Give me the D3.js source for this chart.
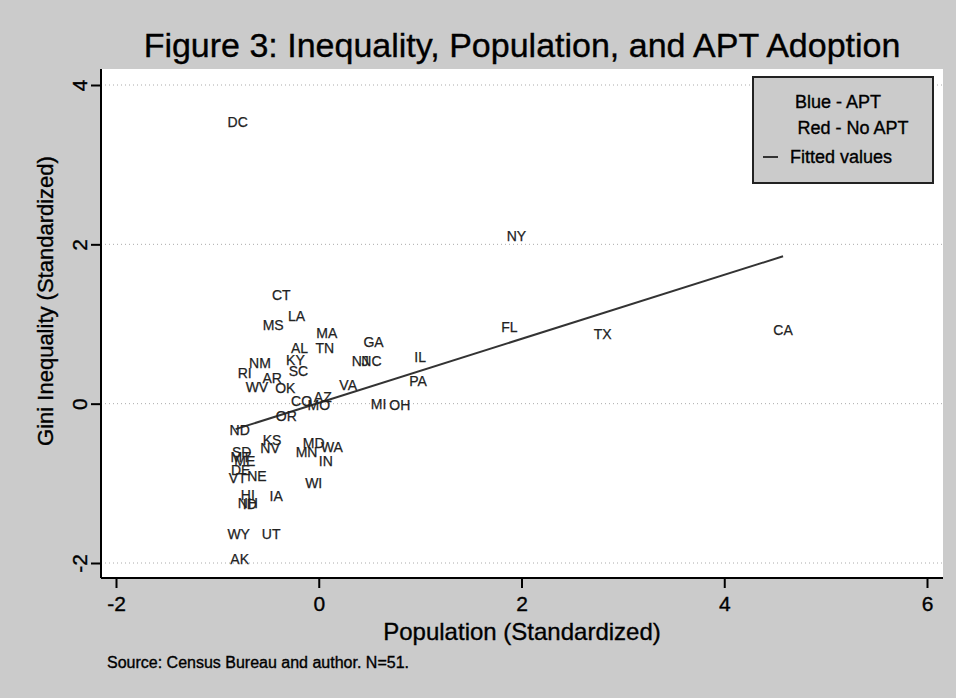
<!DOCTYPE html>
<html><head><meta charset="utf-8">
<script src="https://cdn.jsdelivr.net/npm/d3@7"></script>
<style>
html,body{margin:0;padding:0;background:#cbcbcb;}
svg{display:block;font-family:"Liberation Sans",Arial,sans-serif;}
svg text{stroke:currentColor;stroke-width:0.35px;}
</style></head>
<body>
<svg id="chart" width="956" height="698"></svg>
<script>
const states = ["DC","NY","FL","TX","CA","CT","LA","MS","MA","AL","TN","GA","NJ","NC","IL","NM","KY","SC","RI","AR","WV","OK","VA","PA","AZ","CO","MO","MI","OH","OR","ND","KS","NV","MD","WA","MN","IN","SD","MT","ME","DE","VT","NE","HI","NH","ID","IA","WI","WY","UT","AK"];
const population = [-0.80,1.95,1.88,2.80,4.58,-0.37,-0.22,-0.45,0.08,-0.19,0.06,0.54,0.41,0.52,1.00,-0.58,-0.23,-0.20,-0.73,-0.46,-0.61,-0.33,0.29,0.98,0.04,-0.17,0.00,0.59,0.80,-0.32,-0.78,-0.46,-0.48,-0.05,0.13,-0.12,0.07,-0.76,-0.77,-0.73,-0.77,-0.80,-0.61,-0.70,-0.70,-0.68,-0.42,-0.05,-0.79,-0.47,-0.78];
const gini = [3.54,2.10,0.96,0.87,0.92,1.37,1.10,0.99,0.89,0.70,0.70,0.78,0.53,0.53,0.59,0.51,0.55,0.41,0.39,0.32,0.21,0.20,0.24,0.28,0.09,0.04,-0.01,0.00,-0.01,-0.16,-0.33,-0.45,-0.56,-0.49,-0.54,-0.61,-0.72,-0.60,-0.67,-0.72,-0.83,-0.93,-0.91,-1.15,-1.25,-1.26,-1.16,-0.99,-1.63,-1.64,-1.95];
const fitX = [-0.82, 4.58];
const fitY = [-0.32, 1.85];
const xTicks = [-2,0,2,4,6];
const yTicks = [-2,0,2,4];
const legendItems = ["Blue - APT","Red - No APT","Fitted values"];

const svg = d3.select("#chart");
const x = d3.scaleLinear().domain([-2,6]).range([116,927]);
const y = d3.scaleLinear().domain([-2,4]).range([563,85]);
const plot = {l:101,r:943,t:69,b:578};
const fmt = d => String(d);

// plot region
svg.append("rect").attr("x",plot.l).attr("y",plot.t).attr("width",plot.r-plot.l).attr("height",plot.b-plot.t).attr("fill","#fff");

// grid
svg.append("g").selectAll("line").data(yTicks).join("line")
  .attr("x1",plot.l).attr("x2",plot.r)
  .attr("y1",d=>y(d)).attr("y2",d=>y(d))
  .attr("stroke","#aaa").attr("stroke-width",1).attr("stroke-dasharray","1,3");

// axes
const yAxis = svg.append("g").attr("transform",`translate(${plot.l},0)`)
  .call(d3.axisLeft(y).tickValues(yTicks).tickSize(10).tickFormat(fmt));
yAxis.select(".domain").attr("d",`M0,${plot.t}V${plot.b}`).attr("stroke","#000").attr("stroke-width",2);
yAxis.selectAll(".tick line").attr("stroke","#000").attr("stroke-width",2);
yAxis.selectAll(".tick text").attr("font-size",21).attr("fill","#000")
  .attr("x",0).attr("dy",0)
  .attr("transform","translate(-14,0) rotate(-90)")
  .attr("text-anchor","middle");

const xAxis = svg.append("g").attr("transform",`translate(0,${plot.b})`)
  .call(d3.axisBottom(x).tickValues(xTicks).tickSize(10).tickFormat(fmt));
xAxis.select(".domain").attr("d",`M${plot.l},0H${plot.r}`).attr("stroke","#000").attr("stroke-width",2);
xAxis.selectAll(".tick line").attr("stroke","#000").attr("stroke-width",2);
xAxis.selectAll(".tick text").attr("font-size",21).attr("fill","#000").attr("y",33).attr("dy",0);
svg.selectAll("g").attr("font-family",null);

// fitted line
svg.append("path")
  .attr("d",d3.line()(fitX.map((v,i)=>[x(v),y(fitY[i])])))
  .attr("stroke","#333").attr("stroke-width",2).attr("fill","none");

// state labels
svg.append("g").selectAll("text").data(states).join("text")
  .attr("x",(d,i)=>x(population[i])).attr("y",(d,i)=>y(gini[i]))
  .attr("text-anchor","middle").attr("dy","0.36em")
  .attr("font-size",14).attr("fill","#222").style("color","#222").style("stroke-width","0.25px").text(d=>d);

// legend
const lg = svg.append("g");
lg.append("rect").attr("x",753).attr("y",77).attr("width",180).attr("height",106)
  .attr("fill","#cbcbcb").attr("stroke","#222").attr("stroke-width",2);
lg.append("text").attr("x",838).attr("y",108).attr("text-anchor","middle").attr("font-size",18).text(legendItems[0]);
lg.append("text").attr("x",853).attr("y",134).attr("text-anchor","middle").attr("font-size",18).text(legendItems[1]);
lg.append("line").attr("x1",763).attr("x2",778).attr("y1",157).attr("y2",157).attr("stroke","#333").attr("stroke-width",2);
lg.append("text").attr("x",790).attr("y",163).attr("font-size",18).text(legendItems[2]);

// titles
svg.append("text").attr("x",522).attr("y",57).attr("text-anchor","middle")
  .attr("font-size",34).attr("fill","#000").text("Figure 3: Inequality, Population, and APT Adoption");
svg.append("text").attr("x",522).attr("y",640).attr("text-anchor","middle")
  .attr("font-size",24).attr("fill","#000").text("Population (Standardized)");
svg.append("text").attr("transform","translate(53,301) rotate(-90)").attr("text-anchor","middle")
  .attr("font-size",22).attr("fill","#000").text("Gini Inequality (Standardized)");
svg.append("text").attr("x",107).attr("y",668)
  .attr("font-size",16).attr("fill","#000").text("Source: Census Bureau and author. N=51.");
</script>
</body></html>
